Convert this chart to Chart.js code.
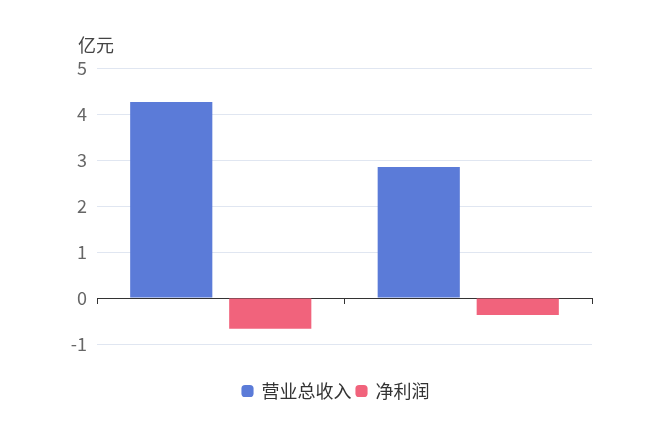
<!DOCTYPE html>
<html>
<head>
<meta charset="utf-8">
<script src="https://cdn.jsdelivr.net/npm/chart.js@4"></script>
<style>
  html, body { margin: 0; padding: 0; background: #fff; }
  #wrap { width: 648px; height: 432px; }
</style>
</head>
<body>
<div id="wrap"><canvas id="c" width="648" height="432"></canvas></div>
<script>
// Data
const categories = ['', ''];
const revenue = [4.26, 2.85];     // 营业总收入 (亿元)
const netProfit = [-0.67, -0.37]; // 净利润 (亿元)
const unitLabel = '亿元';

const FONT = '"Noto Sans CJK SC", "Noto Sans", sans-serif';

// Draws the unit label above the y axis
const unitPlugin = {
  id: 'unitLabel',
  afterDraw(chart) {
    const ctx = chart.ctx;
    const area = chart.chartArea;
    ctx.save();
    ctx.font = '18px ' + FONT;
    ctx.fillStyle = '#444';
    ctx.textAlign = 'left';
    ctx.textBaseline = 'middle';
    ctx.fillText(unitLabel, area.left - 19, area.top - 23);
    ctx.restore();
  }
};

// Leave room between the plot and the legend, and draw the legend lower
const legendGap = {
  id: 'legendGap',
  beforeInit(chart) {
    const legend = chart.legend;
    const fit = legend.fit;
    legend.fit = function () {
      fit.bind(this)();
      this.height += 41;
    };
    const draw = legend.draw;
    legend.draw = function () {
      this.ctx.save();
      this.ctx.translate(40, 33);
      draw.bind(this)();
      this.ctx.restore();
    };
  }
};

new Chart(document.getElementById('c'), {
  type: 'bar',
  data: {
    labels: categories,
    datasets: [
      { label: '营业总收入', data: revenue, backgroundColor: '#5b7bd8' },
      { label: '净利润', data: netProfit, backgroundColor: '#f1637c' }
    ]
  },
  options: {
    responsive: false,
    animation: false,
    devicePixelRatio: 1,
    categoryPercentage: 0.8,
    barPercentage: 0.83,
    layout: { padding: { left: 0, right: 56, top: 68, bottom: 14 } },
    plugins: {
      legend: {
        position: 'bottom',
        labels: {
          usePointStyle: true,
          pointStyle: 'rectRounded',
          boxWidth: 10,
          boxHeight: 10,
          padding: 5,
          color: '#333',
          font: { family: FONT, size: 18 }
        }
      },
      tooltip: { enabled: false }
    },
    scales: {
      x: {
        position: { y: 0 },
        grid: { offset: true, drawOnChartArea: false, drawTicks: true, tickLength: 5, color: '#333' },
        border: { display: true, color: '#333', width: 1 },
        ticks: { display: false }
      },
      y: {
        min: -1,
        max: 5,
        ticks: { stepSize: 1, color: '#666', padding: 10, font: { family: FONT, size: 18 } },
        grid: { color: '#e0e6f1', drawTicks: false },
        border: { display: false },
        afterFit(scale) { scale.width = 97; }
      }
    }
  },
  plugins: [unitPlugin, legendGap]
});
</script>
</body>
</html>
